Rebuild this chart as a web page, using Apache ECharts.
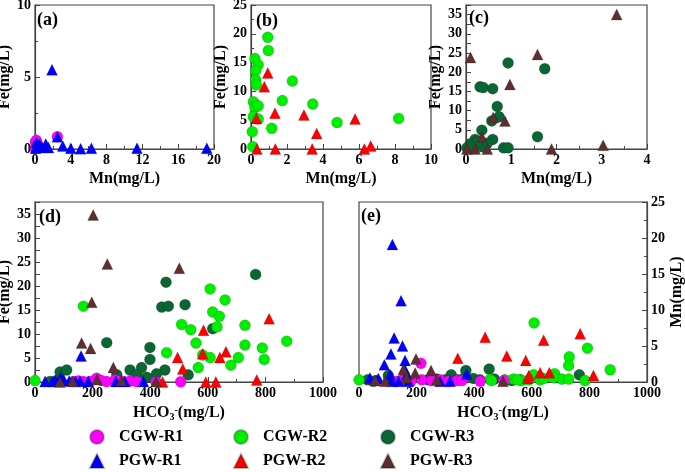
<!DOCTYPE html>
<html>
<head>
<meta charset="utf-8">
<script src="https://cdn.jsdelivr.net/npm/echarts@6/dist/echarts.min.js"></script>
<style>
  html, body { margin: 0; background: #fff; }
  #chart { width: 685px; height: 472px; }
</style>
</head>
<body>
<div id="chart"></div>
<script>
// panel labels
const panelLabels = ["(a)", "(b)", "(c)", "(d)", "(e)"];

// (a) Mn vs Fe, region 1  [Mn, Fe]
const aCGW1 = [[0.05, 0.5], [0.15, 0.6], [0.3, 0.3], [0.1, 0.15], [0.4, 0.1], [0.02, 0.05], [2.5, 0.85]];
const aPGW1 = [[0.05, 0.05], [0.15, 0.45], [0.3, 0.2], [0.5, 0.35], [0.8, 0.1], [1.2, 0.35], [1.5, 0.1],
  [1.9, 5.5], [2.5, 0.85], [3.1, 0.2], [4.0, 0.05], [5.1, 0.02], [6.3, 0.05], [11.4, 0.05], [19.2, 0.05]];

// (b) Mn vs Fe, region 2
const bCGW2 = [[0.93, 19.4], [0.96, 17.1], [0.22, 15.7], [0.4, 14.6], [0.26, 13.6], [0.26, 12.0], [0.3, 11.1],
  [2.3, 11.8], [0.13, 8.2], [1.74, 8.4], [3.43, 7.8], [0.22, 7.2], [0.4, 7.5], [0.13, 5.6], [0.4, 5.2],
  [1.15, 3.6], [0.07, 3.0], [4.78, 4.6], [8.2, 5.3], [0.1, 0.4]];
const bPGW2 = [[0.93, 13.2], [0.74, 10.8], [0.3, 5.3], [1.33, 6.2], [2.94, 5.9], [5.78, 5.2], [3.65, 2.7],
  [0.33, 0], [1.35, 0], [3.4, 0], [6.3, 0], [6.65, 0.5]];

// (c) Mn vs Fe, region 3
const cCGW3 = [[0.93, 22.4], [1.74, 20.9], [0.31, 16.2], [0.38, 16.0], [0.59, 15.7], [0.69, 11.1], [0.73, 8.4],
  [0.57, 7.3], [0.35, 4.9], [1.58, 3.2], [0.59, 2.5], [0.2, 2.5], [0.09, 1.3], [0.83, 0.3], [0.93, 0.3],
  [0.35, 0.6], [0.02, 0.3], [0.47, 1.5], [0.25, 1.8], [0.12, 0.5]];
const cPGW3 = [[3.33, 35.0], [0.1, 23.8], [1.58, 24.6], [0.97, 16.8], [0.6, 8.2], [0.86, 7.3], [0.35, 3.2],
  [1.89, 0], [3.03, 1.0], [0.2, 0], [0.02, 0], [0.47, 0]];

// (d) HCO3 vs Fe
const dCGW1 = [[133, 0.1], [168, 0.1], [214, 0.8], [249, 0.1], [278, 0.4], [307, 0.1], [330, 0.2], [353, 0.1],
  [420, 0.05], [506, 0.05], [150, 0.2], [190, 0.1], [230, 0.3], [290, 0.2]];
const dPGW1 = [[35, 0.1], [61, 0.1], [89, 1.0], [119, 0.2], [156, 0.2], [160, 5.4], [185, 0.1], [281, 0.1],
  [312, 0.1], [376, 0.1], [100, 0.4], [140, 0.1], [70, 0.3]];
const dCGW2 = [[168, 15.8], [608, 19.4], [660, 17.1], [617, 14.6], [640, 13.7], [632, 11.5], [509, 12.0],
  [541, 10.9], [729, 11.8], [874, 8.5], [559, 8.1], [729, 7.7], [789, 7.1], [796, 4.7], [457, 6.1],
  [582, 5.6], [608, 5.1], [706, 5.1], [680, 3.5], [567, 3.0], [0, 0.3]];
const dPGW2 = [[813, 13.2], [585, 10.8], [663, 6.3], [495, 5.1], [582, 5.9], [642, 5.1], [513, 2.7],
  [443, 0], [593, 0], [628, 0], [770, 0.4]];
const dCGW3 = [[766, 22.4], [455, 20.8], [440, 15.6], [463, 15.8], [521, 16.1], [617, 11.1], [249, 8.2],
  [399, 7.2], [399, 4.7], [87, 2.1], [110, 2.5], [330, 2.5], [370, 3.0], [451, 2.5], [422, 1.7],
  [388, 1.0], [353, 1.5], [284, 1.5], [532, 1.5], [52, 0.1], [75, 0.3]];
const dPGW3 = [[202, 34.8], [251, 24.6], [501, 23.7], [197, 16.6], [162, 8.1], [193, 7.0], [272, 3.0],
  [87, 0], [300, 0.3], [130, 0.1], [215, 0.5], [420, 0.1]];

// (e) HCO3 vs Mn
const eCGW1 = [[215, 2.6], [148, 0.2], [218, 0.3], [252, 0.2], [281, 0.3], [340, 0.2], [357, 0.2], [421, 0.1],
  [502, 0.2], [180, 0.1], [310, 0.1], [130, 0.1]];
const ePGW1 = [[116, 19.1], [146, 11.3], [122, 6.1], [151, 5.0], [111, 3.9], [160, 3.0], [88, 2.4], [157, 1.9],
  [108, 1.0], [166, 1.1], [374, 1.1], [38, 0.55], [67, 0.5], [113, 0.1], [137, 0.1], [171, 0.1], [281, 0.1], [316, 0.1]];
const eCGW2 = [[608, 8.2], [793, 4.7], [730, 3.5], [728, 2.3], [872, 1.7], [679, 1.15], [606, 1.0], [455, 0.35],
  [536, 0.4], [565, 0.2], [629, 0.3], [704, 0.4], [728, 0.4], [785, 0.2], [0, 0.3], [507, 0.3], [641, 0.5],
  [675, 0.6], [590, 0.3], [460, 0.2], [550, 0.3]];
const ePGW2 = [[438, 6.2], [641, 5.8], [768, 6.7], [343, 3.3], [513, 3.6], [579, 3.0], [586, 0.5], [590, 0.9],
  [629, 1.3], [661, 1.3], [814, 0.9]];
const eCGW3 = [[371, 1.6], [452, 1.8], [320, 1.0], [102, 0.9], [765, 1.0], [397, 0.5], [30, 0.3], [60, 0.2],
  [240, 0.3], [270, 0.4], [300, 0.3], [340, 0.3], [360, 0.4], [420, 0.3], [470, 0.4], [530, 0.2], [560, 0.3], [50, 0.1]];
const ePGW3 = [[198, 3.2], [250, 1.6], [195, 1.25], [154, 1.7], [56, 0.2], [90, 0.1], [500, 0.1], [270, 0.3], [165, 0.6]];

const FONT = '"Liberation Serif", "Times New Roman", serif';
const FRAME = "#444";
const colors = {
  "CGW-R1": "#ff00ff", "PGW-R1": "#0000ff",
  "CGW-R2": "#00ee00", "PGW-R2": "#ff0000",
  "CGW-R3": "#0a6632", "PGW-R3": "#5e2f2f",
};

const chart = echarts.init(document.getElementById("chart"));

const boxes = [
  [35, 5, 179, 144],
  [251, 5, 180, 144],
  [466, 5, 181, 144],
  [35, 202, 288, 180],
  [359, 202, 288, 180],
];
const grid = boxes.map((b) => ({
  left: b[0], top: b[1], width: b[2], height: b[3],
  show: true, borderColor: FRAME, borderWidth: 1.2,
  containLabel: false, outerBoundsMode: "none",
}));

const labelFont = { fontFamily: FONT, fontWeight: "bold", fontSize: 14, color: "#000" };
const nameFont = {
  fontFamily: FONT, fontWeight: "bold", fontSize: 16, color: "#000",
  rich: {
    b: { fontFamily: FONT, fontWeight: "bold", fontSize: 16, color: "#000" },
    sub: { fontFamily: FONT, fontWeight: "bold", fontSize: 10, color: "#000", padding: [8, 0, 0, 0] },
    sup: { fontFamily: FONT, fontWeight: "bold", fontSize: 10, color: "#000", padding: [0, 0, 6, 0] },
  },
};

const mkAxis = (gi, max, interval, name, gap, extra) => Object.assign({
  gridIndex: gi, type: "value", min: 0, max: max, interval: interval,
  name: name, nameLocation: "middle", nameGap: gap, nameTextStyle: nameFont,
  axisLine: { show: true, onZero: false, lineStyle: { color: FRAME, width: 1.2 } },
  axisTick: { show: true, inside: true, length: 5, lineStyle: { color: FRAME } },
  minorTick: { show: true, splitNumber: 2, length: 3, lineStyle: { color: FRAME } },
  axisLabel: Object.assign({ margin: 4, formatter: (v) => String(v) }, labelFont),
  splitLine: { show: false },
}, extra || {});

const fiveOnly = { formatter: (v) => (v % 5 === 0 ? String(v) : ""), interval: 0 };
const hco3 = "{b|HCO}{sub|3}{sup|-}{b|(mg/L)}";

const xAxis = [
  mkAxis(0, 20, 4, "Mn(mg/L)", 22),
  mkAxis(1, 10, 2, "Mn(mg/L)", 22),
  mkAxis(2, 4, 1, "Mn(mg/L)", 22),
  mkAxis(3, 1000, 200, hco3, 22),
  mkAxis(4, 1000, 200, hco3, 22),
];
const yAxis = [
  mkAxis(0, 10, 5, "Fe(mg/L)", 17),
  mkAxis(1, 25, 5, "Fe(mg/L)", 20),
  mkAxis(2, 37.5, 2.5, "Fe(mg/L)", 20, { minorTick: { show: false } }),
  mkAxis(3, 37.5, 2.5, "Fe(mg/L)", 17, { minorTick: { show: false } }),
  mkAxis(4, 25, 5, "Mn(mg/L)", 22, { position: "right" }),
];
yAxis[2].axisLabel = Object.assign({}, yAxis[2].axisLabel, fiveOnly);
yAxis[3].axisLabel = Object.assign({}, yAxis[3].axisLabel, fiveOnly);

const sc = (name, data, gi) => ({
  name: name, type: "scatter", data: data,
  xAxisIndex: gi, yAxisIndex: gi,
  symbol: name.startsWith("PGW") ? "triangle" : "circle",
  symbolSize: 11,
  z: name.startsWith("PGW") ? 3 : 2,
  itemStyle: { color: colors[name], borderColor: "rgba(0,0,0,0.25)", borderWidth: 0.6, opacity: 1 },
  emphasis: { disabled: true },
});

const series = [
  sc("CGW-R1", aCGW1, 0), sc("PGW-R1", aPGW1, 0),
  sc("CGW-R2", bCGW2, 1), sc("PGW-R2", bPGW2, 1),
  sc("CGW-R3", cCGW3, 2), sc("PGW-R3", cPGW3, 2),
  sc("CGW-R3", dCGW3, 3), sc("CGW-R2", dCGW2, 3), sc("CGW-R1", dCGW1, 3),
  sc("PGW-R1", dPGW1, 3), sc("PGW-R2", dPGW2, 3), sc("PGW-R3", dPGW3, 3),
  sc("CGW-R3", eCGW3, 4), sc("CGW-R2", eCGW2, 4), sc("CGW-R1", eCGW1, 4),
  sc("PGW-R1", ePGW1, 4), sc("PGW-R2", ePGW2, 4), sc("PGW-R3", ePGW3, 4),
];

const titlePos = [[37, 11], [256, 12], [469, 9], [39, 208], [361, 207]];
const title = panelLabels.map((t, i) => ({
  text: t, left: titlePos[i][0], top: titlePos[i][1], padding: 0,
  textStyle: { fontFamily: FONT, fontWeight: "bold", fontSize: 18, color: "#000" },
}));

const legendCols = [["CGW-R1", "PGW-R1"], ["CGW-R2", "PGW-R2"], ["CGW-R3", "PGW-R3"]];
const legendLeft = [89, 233, 380];
const legend = legendCols.map((d, i) => ({
  data: d, orient: "vertical", left: legendLeft[i], top: 429, padding: 0,
  itemWidth: 14, itemHeight: 14, itemGap: 8, selectedMode: false,
  textStyle: { fontFamily: FONT, fontWeight: "bold", fontSize: 16, color: "#000", padding: [0, 0, 0, 10] },
}));

chart.setOption({
  animation: false,
  backgroundColor: "#fff",
  title: title,
  legend: legend,
  grid: grid,
  xAxis: xAxis,
  yAxis: yAxis,
  series: series,
});
</script>
</body>
</html>
